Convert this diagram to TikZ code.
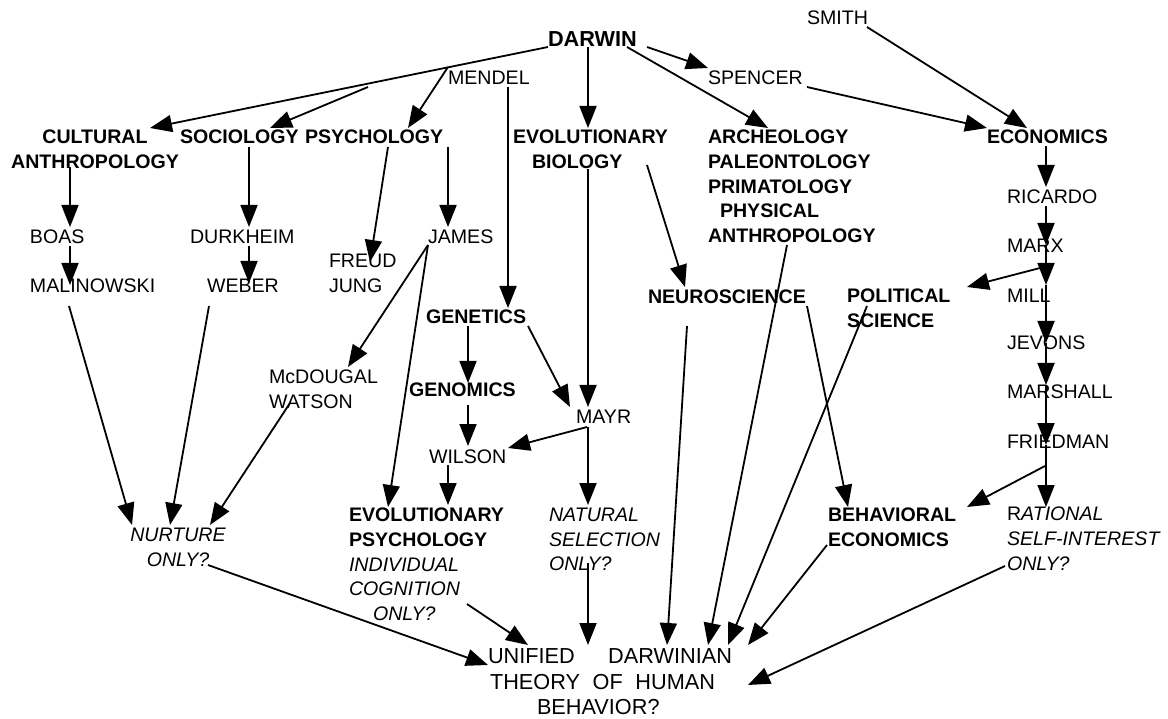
\documentclass[tikz,border=0pt]{standalone}
\usepackage{fontspec}
\setmainfont{Liberation Sans}
\usetikzlibrary{arrows.meta}
\begin{document}
\begin{tikzpicture}[x=1pt,y=-1pt,
  txt/.style={inner sep=0pt, outer sep=0pt, font=\fontsize{19.6}{24.7}\selectfont},
  txtb/.style={inner sep=0pt, outer sep=0pt, font=\fontsize{19.6}{24.7}\selectfont\bfseries},
  txti/.style={inner sep=0pt, outer sep=0pt, font=\fontsize{19.6}{24.7}\selectfont\itshape},
  arr/.style={line width=1.8pt, -{Triangle[length=22pt,width=17pt]}}]
\fill[white] (0,0) rectangle (1168,719);
\useasboundingbox (0,0) rectangle (1168,719);

% nodes
\node[txtb, font=\fontsize{21.7}{26}\selectfont\bfseries, anchor=base west] (darwin) at (548,47) {DARWIN};
\node[txt, anchor=base west] (smith) at (807,25) {SMITH};
\node[txt, anchor=base west] (spencer) at (708,85) {SPENCER};
\node[txt, anchor=base west] (mendel) at (448,85) {MENDEL};
\node[txtb, anchor=north, align=center] (cultanth) at (95,130) {CULTURAL\\ANTHROPOLOGY};
\node[txtb, anchor=base west] (sociology) at (180,144) {SOCIOLOGY};
\node[txtb, anchor=base west] (psychology) at (305,144) {PSYCHOLOGY};
\node[txtb, anchor=north west, align=left] (evobio) at (513,130) {EVOLUTIONARY\\\hspace*{19pt}BIOLOGY};
\node[txtb, anchor=north west, align=left] (archeo) at (708,130) {ARCHEOLOGY\\PALEONTOLOGY\\PRIMATOLOGY\\\hspace*{12pt}PHYSICAL\\ANTHROPOLOGY};
\node[txtb, anchor=base west] (economics) at (987,144) {ECONOMICS};
\node[txt, anchor=base west] (ricardo) at (1007,204) {RICARDO};
\node[txt, anchor=base west] (marx) at (1007,253) {MARX};
\node[txt, anchor=base west] (mill) at (1007,303) {MILL};
\node[txt, anchor=base west] (jevons) at (1007,350) {JEVONS};
\node[txt, anchor=base west] (marshall) at (1007,399) {MARSHALL};
\node[txt, anchor=base west] (friedman) at (1007,448) {FRIEDMAN};
\node[txtb, anchor=north west, align=left] (polsci) at (847,289) {POLITICAL\\SCIENCE};
\node[txtb, anchor=base west] (neuro) at (648,304) {NEUROSCIENCE};
\node[txt, anchor=base west] (boas) at (30,244) {BOAS};
\node[txt, anchor=base west] (durkheim) at (190,244) {DURKHEIM};
\node[txt, anchor=base west] (malinowski) at (30,293) {MALINOWSKI};
\node[txt, anchor=base west] (weber) at (207,293) {WEBER};
\node[txt, anchor=north west, align=left] (freudjung) at (329,254) {FREUD\\JUNG};
\node[txt, anchor=base west] (james) at (428,244) {JAMES};
\node[txt, anchor=north west, align=left] (mcdougal) at (269,370) {McDOUGAL\\WATSON};
\node[txtb, anchor=base west] (genetics) at (426,324) {GENETICS};
\node[txtb, anchor=base west] (genomics) at (409,397) {GENOMICS};
\node[txt, anchor=base west] (mayr) at (576,424) {MAYR};
\node[txt, anchor=base west] (wilson) at (429,463) {WILSON};
\node[txt, anchor=north west, align=left] (evopsych) at (349,508) {\textbf{EVOLUTIONARY}\\\textbf{PSYCHOLOGY}\\\textit{INDIVIDUAL}\\\textit{COGNITION}\\\hspace*{24pt}\textit{ONLY?}};
\node[txti, anchor=north west, align=left] (natsel) at (549,508) {NATURAL\\SELECTION\\ONLY?};
\node[txti, anchor=north, align=center] (nurture) at (178,528) {NURTURE\\ONLY?};
\node[txtb, anchor=north west, align=left] (behecon) at (828,508) {BEHAVIORAL\\ECONOMICS};
\node[txt, anchor=north west, align=left] (rational) at (1007,507) {R\textit{ATIONAL}\\\textit{SELF-INTEREST}\\\textit{ONLY?}};
\node[txt, font=\fontsize{21.7}{25.5}\selectfont, anchor=north west, align=left] (unified) at (488,649)
  {\makebox[244pt][l]{UNIFIED\hfill DARWINIAN}\\\hspace*{2pt}\makebox[225pt][l]{THEORY\hfill OF\hfill HUMAN}\\\hspace*{49pt}BEHAVIOR?};

% connectors
\coordinate (socfork) at (368,87);
\coordinate (psyfork) at (448,67);
\draw[arr] (darwin.base west) -- ([shift={(55,-2)}]cultanth.north);
\draw[arr] (socfork) -- ([shift={(90,-16)}]sociology.base west);
\draw[arr] (psyfork) -- ([shift={(103,-16)}]psychology.base west);
\draw[arr] ([shift={(60,2)}]mendel.base west) -- ([shift={(82,-16)}]genetics.base west);
\draw[arr] ([shift={(40,0)}]darwin.base west) -- ([shift={(75,-2)}]evobio.north west);
\draw[arr] ([shift={(75,39)}]evobio.north west) -- ([shift={(12,-17)}]mayr.base west);
\draw[arr] ([shift={(99,0)}]darwin.base west) -- ([shift={(0,-17)}]spencer.base west);
\draw[arr] ([shift={(79,0)}]darwin.base west) -- ([shift={(60,-2)}]archeo.north west);
\draw[arr] ([shift={(60,2)}]smith.base west) -- ([shift={(40,-16)}]economics.base west);
\draw[arr] ([shift={(99,2)}]spencer.base west) -- ([shift={(0,-16)}]economics.base west);
\draw[arr] ([shift={(59,2)}]economics.base west) -- ([shift={(39,-17)}]ricardo.base west);
\draw[arr] ([shift={(39,2)}]ricardo.base west) -- ([shift={(39,-8)}]marx.base west);
\draw[arr] ([shift={(39,-8)}]marx.base west) -- ([shift={(39,-18)}]mill.base west);
\draw[arr] ([shift={(39,-18)}]mill.base west) -- ([shift={(39,-7)}]jevons.base west);
\draw[arr] ([shift={(39,-7)}]jevons.base west) -- ([shift={(39,-14)}]marshall.base west);
\draw[arr] ([shift={(39,-14)}]marshall.base west) -- ([shift={(39,-3)}]friedman.base west);
\draw[arr] ([shift={(39,-3)}]friedman.base west) -- ([shift={(39,0)}]rational.north west);
\draw[arr] ([shift={(33,15)}]marx.base west) -- ([shift={(120,-2)}]polsci.north west);
\draw[arr] ([shift={(38,18)}]friedman.base west) -- ([shift={(139,-1)}]behecon.north west);
\draw[arr] ([shift={(79,115)}]archeo.north west) -- ([shift={(220,-4)}]unified.north west);
\draw[arr] ([shift={(134,35)}]evobio.north west) -- ([shift={(37,-17)}]neuro.base west);
\draw[arr] ([shift={(39,22)}]neuro.base west) -- ([shift={(179,-4)}]unified.north west);
\draw[arr] ([shift={(159,2)}]neuro.base west) -- ([shift={(20,-1)}]behecon.north west);
\draw[arr] ([shift={(20,17)}]polsci.north west) -- ([shift={(240,-4)}]unified.north west);
\draw[arr] ([shift={(-1,37)}]behecon.north west) -- ([shift={(260,-4)}]unified.north west);
\draw[arr] ([shift={(-2,59)}]rational.north west) -- ([shift={(260,36)}]unified.north west);
\draw[arr] ([shift={(12,3)}]mayr.base west) -- ([shift={(39,-3)}]natsel.north west);
\draw[arr] ([shift={(39,55)}]natsel.north west) -- ([shift={(100,-4)}]unified.north west);
\draw[arr] ([shift={(11,3)}]mayr.base west) -- ([shift={(79,-15)}]wilson.base west);
\draw[arr] ([shift={(42,2)}]genetics.base west) -- ([shift={(59,-14)}]genomics.base west);
\draw[arr] ([shift={(59,8)}]genomics.base west) -- ([shift={(39,-17)}]wilson.base west);
\draw[arr] ([shift={(19,2)}]wilson.base west) -- ([shift={(99,-3)}]evopsych.north west);
\draw[arr] ([shift={(102,2)}]genetics.base west) -- ([shift={(-6,-17)}]mayr.base west);
\draw[arr] ([shift={(83,3)}]psychology.base west) -- ([shift={(41,8)}]freudjung.north west);
\draw[arr] ([shift={(143,3)}]psychology.base west) -- ([shift={(20,-17)}]james.base west);
\draw[arr] ([shift={(0,1)}]james.base west) -- ([shift={(79,-3)}]mcdougal.north west);
\draw[arr] ([shift={(0,1)}]james.base west) -- ([shift={(39,-1)}]evopsych.north west);
\draw[arr] ([shift={(-25,37)}]cultanth.north) -- ([shift={(40,-17)}]boas.base west);
\draw[arr] ([shift={(40,2)}]boas.base west) -- ([shift={(40,-8)}]malinowski.base west);
\draw[arr] ([shift={(69,3)}]sociology.base west) -- ([shift={(59,-17)}]durkheim.base west);
\draw[arr] ([shift={(59,2)}]durkheim.base west) -- ([shift={(42,-10)}]weber.base west);
\draw[arr] ([shift={(39,13)}]malinowski.base west) -- ([shift={(-46,-3)}]nurture.north);
\draw[arr] ([shift={(2,13)}]weber.base west) -- ([shift={(-8,-3)}]nurture.north);
\draw[arr] ([shift={(21,33)}]mcdougal.north west) -- ([shift={(32,-3)}]nurture.north);
\draw[arr] ([shift={(30,37)}]nurture.north) -- ([shift={(0,16)}]unified.north west);
\draw[arr] ([shift={(118,96)}]evopsych.north west) -- ([shift={(40,-4)}]unified.north west);
\end{tikzpicture}
\end{document}
